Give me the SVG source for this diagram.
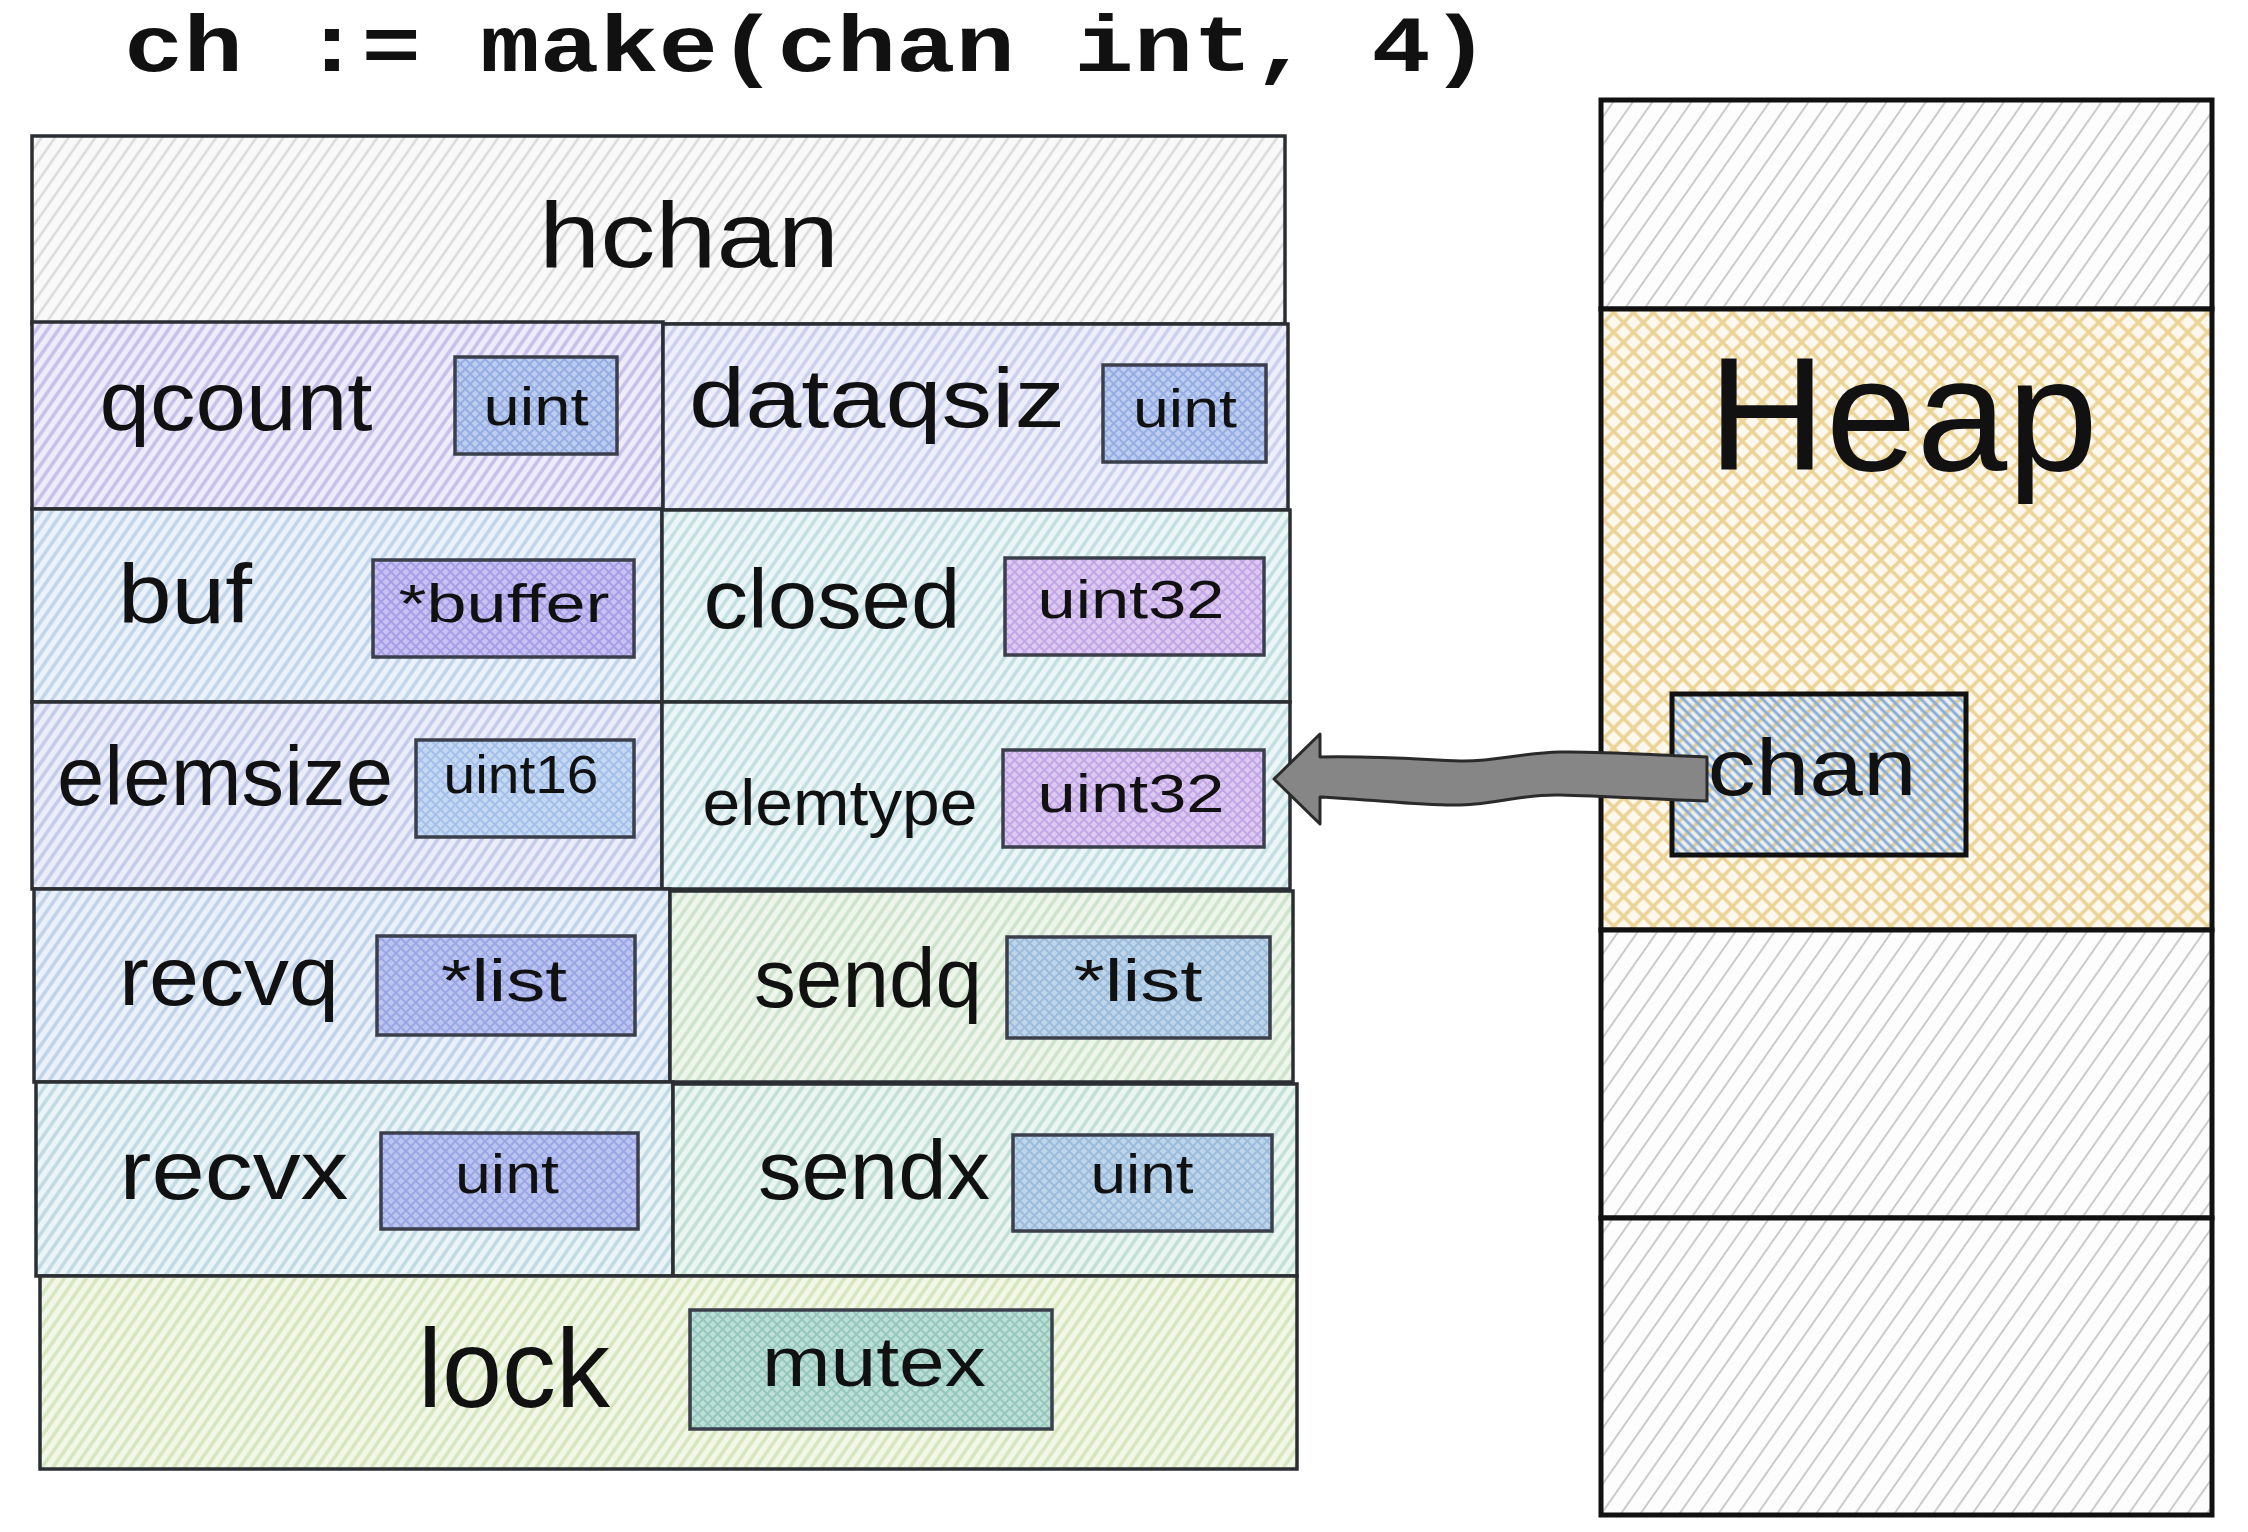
<svg xmlns="http://www.w3.org/2000/svg" width="2248" height="1532" viewBox="0 0 2248 1532">
<defs>
<style>
.cell{stroke:#2b2f33;stroke-width:3.5;}
.tbox{stroke:#3b3f4c;stroke-width:3.5;}
.mem{stroke:#111;stroke-width:5;}
.hand{font-family:"Liberation Sans","DejaVu Sans",sans-serif;fill:#111;text-anchor:middle;}
.code{font-family:"Liberation Mono","DejaVu Sans Mono",monospace;font-weight:bold;fill:#111;}
</style>
<pattern id="p-head" width="11" height="11" patternUnits="userSpaceOnUse" patternTransform="rotate(35)"><rect width="11" height="11" fill="#f9f9f9"/><line x1="3" y1="0" x2="3" y2="11" stroke="#dadada" stroke-width="2.5"/></pattern>
<pattern id="p-white" width="16" height="16" patternUnits="userSpaceOnUse" patternTransform="rotate(35)"><rect width="16" height="16" fill="#fdfdfd"/><line x1="4" y1="0" x2="4" y2="16" stroke="#cbcbcb" stroke-width="2"/></pattern>
<pattern id="p-qcount" width="9" height="9" patternUnits="userSpaceOnUse" patternTransform="rotate(35)"><rect width="9" height="9" fill="#eeecf9"/><line x1="3" y1="0" x2="3" y2="9" stroke="#c5bfea" stroke-width="3.5"/></pattern>
<pattern id="p-dataq" width="9" height="9" patternUnits="userSpaceOnUse" patternTransform="rotate(35)"><rect width="9" height="9" fill="#eeeff9"/><line x1="3" y1="0" x2="3" y2="9" stroke="#cbcfee" stroke-width="3.5"/></pattern>
<pattern id="p-buf" width="9" height="9" patternUnits="userSpaceOnUse" patternTransform="rotate(35)"><rect width="9" height="9" fill="#ebf2f9"/><line x1="3" y1="0" x2="3" y2="9" stroke="#c0d4ea" stroke-width="3.5"/></pattern>
<pattern id="p-closed" width="9" height="9" patternUnits="userSpaceOnUse" patternTransform="rotate(35)"><rect width="9" height="9" fill="#ecf6f6"/><line x1="3" y1="0" x2="3" y2="9" stroke="#c2dee1" stroke-width="3.5"/></pattern>
<pattern id="p-elemsize" width="9" height="9" patternUnits="userSpaceOnUse" patternTransform="rotate(35)"><rect width="9" height="9" fill="#ebeef9"/><line x1="3" y1="0" x2="3" y2="9" stroke="#c3cbea" stroke-width="3.5"/></pattern>
<pattern id="p-recvq" width="9" height="9" patternUnits="userSpaceOnUse" patternTransform="rotate(35)"><rect width="9" height="9" fill="#eaf1f9"/><line x1="3" y1="0" x2="3" y2="9" stroke="#bfd2ea" stroke-width="3.5"/></pattern>
<pattern id="p-sendq" width="9" height="9" patternUnits="userSpaceOnUse" patternTransform="rotate(35)"><rect width="9" height="9" fill="#eef6ec"/><line x1="3" y1="0" x2="3" y2="9" stroke="#cde2cb" stroke-width="3.5"/></pattern>
<pattern id="p-recvx" width="9" height="9" patternUnits="userSpaceOnUse" patternTransform="rotate(35)"><rect width="9" height="9" fill="#ebf4f6"/><line x1="3" y1="0" x2="3" y2="9" stroke="#bfdae2" stroke-width="3.5"/></pattern>
<pattern id="p-sendx" width="9" height="9" patternUnits="userSpaceOnUse" patternTransform="rotate(35)"><rect width="9" height="9" fill="#ecf6f1"/><line x1="3" y1="0" x2="3" y2="9" stroke="#c2dfd7" stroke-width="3.5"/></pattern>
<pattern id="p-lock" width="9" height="9" patternUnits="userSpaceOnUse" patternTransform="rotate(35)"><rect width="9" height="9" fill="#f2f7e8"/><line x1="3" y1="0" x2="3" y2="9" stroke="#d5e6bd" stroke-width="3.5"/></pattern>
<pattern id="x-uintq" width="7" height="7" patternUnits="userSpaceOnUse" patternTransform="rotate(45)"><rect width="7" height="7" fill="#bccdf0"/><path d="M2 0V7M0 2H7" stroke="#95ade2" stroke-width="2"/></pattern>
<pattern id="x-buffer" width="7" height="7" patternUnits="userSpaceOnUse" patternTransform="rotate(45)"><rect width="7" height="7" fill="#c8c2f2"/><path d="M2 0V7M0 2H7" stroke="#a79ee7" stroke-width="2"/></pattern>
<pattern id="x-uint32" width="7" height="7" patternUnits="userSpaceOnUse" patternTransform="rotate(45)"><rect width="7" height="7" fill="#dccaf1"/><path d="M2 0V7M0 2H7" stroke="#c3a6e6" stroke-width="2"/></pattern>
<pattern id="x-uint16" width="7" height="7" patternUnits="userSpaceOnUse" patternTransform="rotate(45)"><rect width="7" height="7" fill="#c6d9f3"/><path d="M2 0V7M0 2H7" stroke="#a4c0ea" stroke-width="2"/></pattern>
<pattern id="x-listr" width="7" height="7" patternUnits="userSpaceOnUse" patternTransform="rotate(45)"><rect width="7" height="7" fill="#bcc4f0"/><path d="M2 0V7M0 2H7" stroke="#9ba7e4" stroke-width="2"/></pattern>
<pattern id="x-lists" width="7" height="7" patternUnits="userSpaceOnUse" patternTransform="rotate(45)"><rect width="7" height="7" fill="#bed5ea"/><path d="M2 0V7M0 2H7" stroke="#9cbcdc" stroke-width="2"/></pattern>
<pattern id="x-mutex" width="7" height="7" patternUnits="userSpaceOnUse" patternTransform="rotate(45)"><rect width="7" height="7" fill="#bcdfd7"/><path d="M2 0V7M0 2H7" stroke="#95c7bc" stroke-width="2"/></pattern>
<pattern id="x-heap" width="14" height="14" patternUnits="userSpaceOnUse" patternTransform="rotate(45)"><rect width="14" height="14" fill="#fcf8ee"/><path d="M4 0V14M0 4H14" stroke="#ecd395" stroke-width="3.5"/></pattern>
<pattern id="x-chan" width="14" height="14" patternUnits="userSpaceOnUse" patternTransform="rotate(45)"><rect width="14" height="14" fill="#eef0ea"/><path d="M4 0V14" stroke="#e6cd92" stroke-width="3.5"/><path d="M0 4H14M0 11H14" stroke="#86acdc" stroke-width="3"/></pattern>
</defs>
<rect width="2248" height="1532" fill="#ffffff"/>

<g id="title">
<text class="code" x="124" y="71" font-size="80" textLength="1366" lengthAdjust="spacingAndGlyphs">ch := make(chan int, 4)</text>
</g>

<g id="hchan">
<rect class="cell" x="32" y="136" width="1253" height="188" fill="url(#p-head)"/>
<text class="hand" x="689" y="267" font-size="92" textLength="300" lengthAdjust="spacingAndGlyphs">hchan</text>
</g>

<g id="qcount">
<rect class="cell" x="32" y="322" width="631" height="187" fill="url(#p-qcount)"/>
<text class="hand" x="236" y="430" font-size="84" textLength="273" lengthAdjust="spacingAndGlyphs">qcount</text>
<rect class="tbox" x="455" y="357" width="162" height="97" fill="url(#x-uintq)"/>
<text class="hand" x="536" y="425" font-size="54" textLength="105" lengthAdjust="spacingAndGlyphs">uint</text>
</g>

<g id="dataqsiz">
<rect class="cell" x="663" y="324" width="625" height="186" fill="url(#p-dataq)"/>
<text class="hand" x="877" y="427" font-size="84" textLength="376" lengthAdjust="spacingAndGlyphs">dataqsiz</text>
<rect class="tbox" x="1103" y="365" width="163" height="97" fill="url(#x-uintq)"/>
<text class="hand" x="1185" y="427" font-size="54" textLength="104" lengthAdjust="spacingAndGlyphs">uint</text>
</g>

<g id="buf">
<rect class="cell" x="32" y="509" width="630" height="193" fill="url(#p-buf)"/>
<text class="hand" x="185" y="623" font-size="84" textLength="134" lengthAdjust="spacingAndGlyphs">buf</text>
<rect class="tbox" x="373" y="560" width="261" height="97" fill="url(#x-buffer)"/>
<text class="hand" x="504" y="622" font-size="54" textLength="211" lengthAdjust="spacingAndGlyphs">*buffer</text>
</g>

<g id="closed">
<rect class="cell" x="662" y="510" width="628" height="192" fill="url(#p-closed)"/>
<text class="hand" x="832" y="628" font-size="84" textLength="257" lengthAdjust="spacingAndGlyphs">closed</text>
<rect class="tbox" x="1005" y="558" width="259" height="97" fill="url(#x-uint32)"/>
<text class="hand" x="1131" y="618" font-size="54" textLength="187" lengthAdjust="spacingAndGlyphs">uint32</text>
</g>

<g id="elemsize">
<rect class="cell" x="32" y="702" width="630" height="187" fill="url(#p-elemsize)"/>
<text class="hand" x="225" y="805" font-size="84" textLength="336" lengthAdjust="spacingAndGlyphs">elemsize</text>
<rect class="tbox" x="416" y="740" width="218" height="97" fill="url(#x-uint16)"/>
<text class="hand" x="521" y="793" font-size="54" textLength="155" lengthAdjust="spacingAndGlyphs">uint16</text>
</g>

<g id="elemtype">
<rect class="cell" x="662" y="702" width="628" height="187" fill="url(#p-closed)"/>
<text class="hand" x="840" y="825" font-size="64" textLength="275" lengthAdjust="spacingAndGlyphs">elemtype</text>
<rect class="tbox" x="1003" y="750" width="261" height="97" fill="url(#x-uint32)"/>
<text class="hand" x="1131" y="812" font-size="54" textLength="187" lengthAdjust="spacingAndGlyphs">uint32</text>
</g>

<g id="recvq">
<rect class="cell" x="34" y="889" width="636" height="193" fill="url(#p-recvq)"/>
<text class="hand" x="229" y="1005" font-size="84" textLength="220" lengthAdjust="spacingAndGlyphs">recvq</text>
<rect class="tbox" x="377" y="936" width="258" height="99" fill="url(#x-listr)"/>
<text class="hand" x="504" y="1001" font-size="60" textLength="126" lengthAdjust="spacingAndGlyphs">*list</text>
</g>

<g id="sendq">
<rect class="cell" x="670" y="891" width="623" height="191" fill="url(#p-sendq)"/>
<text class="hand" x="868" y="1007" font-size="84" textLength="228" lengthAdjust="spacingAndGlyphs">sendq</text>
<rect class="tbox" x="1007" y="937" width="263" height="101" fill="url(#x-lists)"/>
<text class="hand" x="1138" y="1001" font-size="60" textLength="129" lengthAdjust="spacingAndGlyphs">*list</text>
</g>

<g id="recvx">
<rect class="cell" x="36" y="1082" width="637" height="194" fill="url(#p-recvx)"/>
<text class="hand" x="234" y="1199" font-size="84" textLength="229" lengthAdjust="spacingAndGlyphs">recvx</text>
<rect class="tbox" x="381" y="1133" width="257" height="96" fill="url(#x-listr)"/>
<text class="hand" x="507" y="1193" font-size="56" textLength="104" lengthAdjust="spacingAndGlyphs">uint</text>
</g>

<g id="sendx">
<rect class="cell" x="673" y="1084" width="624" height="192" fill="url(#p-sendx)"/>
<text class="hand" x="874" y="1199" font-size="84" textLength="232" lengthAdjust="spacingAndGlyphs">sendx</text>
<rect class="tbox" x="1013" y="1135" width="259" height="96" fill="url(#x-lists)"/>
<text class="hand" x="1142" y="1193" font-size="56" textLength="103" lengthAdjust="spacingAndGlyphs">uint</text>
</g>

<g id="lock">
<rect class="cell" x="40" y="1276" width="1257" height="193" fill="url(#p-lock)"/>
<text class="hand" x="514" y="1407" font-size="112" textLength="192" lengthAdjust="spacingAndGlyphs">lock</text>
<rect class="tbox" x="690" y="1310" width="362" height="119" fill="url(#x-mutex)"/>
<text class="hand" x="874" y="1386" font-size="70" textLength="224" lengthAdjust="spacingAndGlyphs">mutex</text>
</g>

<g id="memory-top">
<rect class="mem" x="1601" y="100" width="611" height="209" fill="url(#p-white)"/>
</g>

<g id="heap">
<rect class="mem" x="1601" y="309" width="611" height="621" fill="url(#x-heap)"/>
<text class="hand" x="1903" y="470" font-size="162" textLength="390" lengthAdjust="spacingAndGlyphs">Heap</text>
</g>

<g id="chan">
<rect class="mem" x="1672" y="694" width="294" height="161" fill="url(#x-chan)" stroke-width="4"/>
<text class="hand" x="1812" y="795" font-size="80" textLength="209" lengthAdjust="spacingAndGlyphs">chan</text>
</g>

<g id="memory-mid">
<rect class="mem" x="1601" y="930" width="611" height="288" fill="url(#p-white)"/>
</g>

<g id="memory-bottom">
<rect class="mem" x="1601" y="1218" width="611" height="297" fill="url(#p-white)"/>
</g>

<g id="connectors">
<path d="M1707 757 C1650 755 1600 751 1560 752 C1520 753 1495 762 1460 761 C1425 760 1390 756 1320 757 L1320 734 L1274 779 L1320 824 L1320 797 C1380 800 1420 806 1460 805 C1500 804 1520 794 1560 795 C1610 796 1660 800 1707 801 Z" fill="#868686" stroke="#2a2a2a" stroke-width="3" stroke-linejoin="round"/>
</g>
</svg>
